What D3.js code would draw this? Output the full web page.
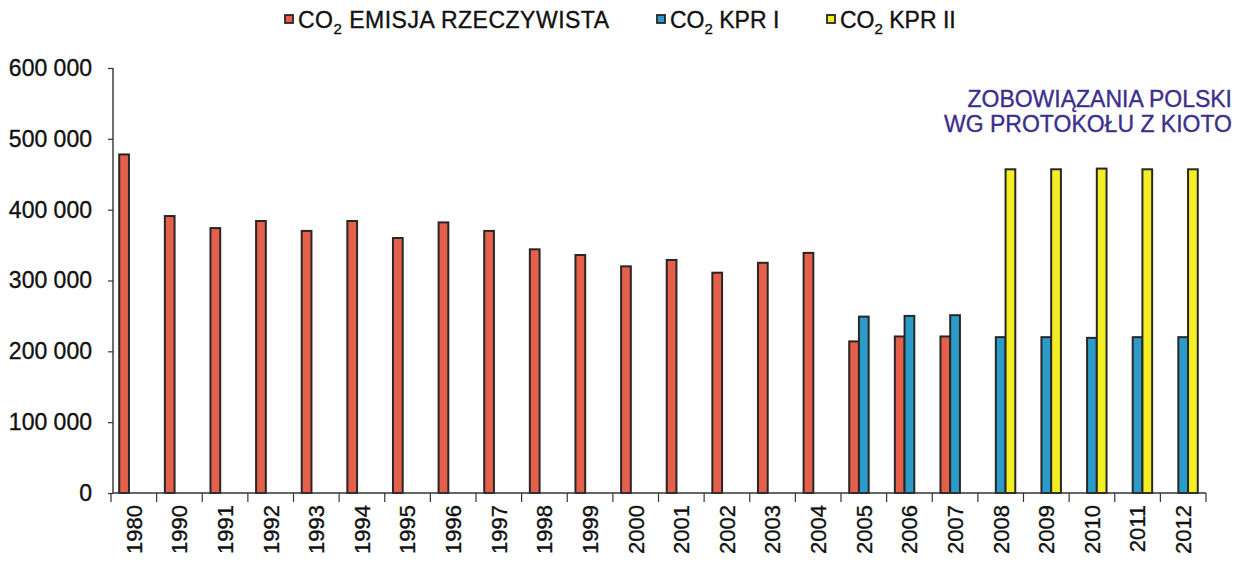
<!DOCTYPE html>
<html>
<head>
<meta charset="utf-8">
<script src="https://cdn.jsdelivr.net/npm/d3@7"></script>
<style>
  html, body { margin: 0; padding: 0; background: #fff; }
  svg { display: block; font-family: "Liberation Sans", Arial, Helvetica, sans-serif; }
  .txt { stroke-width: 0.35px; paint-order: stroke; }
</style>
</head>
<body>
<svg id="chart" width="1238" height="563"></svg>
<script>
// Emisja CO2 w Polsce [tys. ton] – emisja rzeczywista oraz limity KPR I i KPR II
const years = ["1980","1990","1991","1992","1993","1994","1995","1996","1997","1998","1999",
  "2000","2001","2002","2003","2004","2005","2006","2007","2008","2009","2010","2011","2012"];

const emisjaRzeczywista = [478000, 391000, 374000, 384000, 370000, 384000, 360000, 382000, 370000,
  344000, 336000, 320000, 329000, 311000, 325000, 339000, 214000, 221000, 221000,
  null, null, null, null, null];

const kprI = [null, null, null, null, null, null, null, null, null, null, null, null, null, null,
  null, null, 249000, 250000, 251000, 220000, 220000, 219000, 220000, 220000];

const kprII = [null, null, null, null, null, null, null, null, null, null, null, null, null, null,
  null, null, null, null, null, 457000, 457000, 458000, 457000, 457000];

const seriesNames = ["CO2 EMISJA RZECZYWISTA", "CO2 KPR I", "CO2 KPR II"];
const seriesColors = ["#e4604a", "#2b9bc9", "#f4ef22"];
const yTicks = [0, 100000, 200000, 300000, 400000, 500000, 600000];
const noteLines = ["ZOBOWIĄZANIA POLSKI", "WG PROTOKOŁU Z KIOTO"];

const svg = d3.select("#chart");
const plot = { left: 111, right: 1206, top: 68, bottom: 493 };

const x = d3.scaleBand().domain(years).range([plot.left, plot.right])
  .paddingInner(0.36).paddingOuter(0.18);
const x1 = d3.scaleBand().domain(d3.range(3)).range([0, x.bandwidth()]).padding(0);
const y = d3.scaleLinear().domain([0, 600000]).range([plot.bottom, plot.top]);

const plFormat = d3.formatLocale({ decimal: ",", thousands: " ", grouping: [3], currency: ["", ""] }).format(",d");

// bars
const seriesData = [emisjaRzeczywista, kprI, kprII];
const rows = [];
seriesData.forEach((vals, si) => vals.forEach((v, i) => {
  if (v != null) rows.push({ year: years[i], s: si, v });
}));
svg.append("g").selectAll("rect").data(rows).join("rect")
  .attr("x", d => x(d.year) + x1(d.s))
  .attr("y", d => y(d.v))
  .attr("width", x1.bandwidth())
  .attr("height", d => y(0) - y(d.v))
  .attr("fill", d => seriesColors[d.s])
  .attr("stroke", "#2a2626")
  .attr("stroke-width", 2);

// y axis
const yAxis = svg.append("g").attr("transform", `translate(${plot.left + 2},0)`)
  .call(d3.axisLeft(y).tickValues(yTicks).tickFormat(plFormat).tickSize(5).tickPadding(16));
yAxis.select(".domain").attr("stroke", "#333").attr("stroke-width", 1.4)
  .attr("d", `M0,${plot.top}V${plot.bottom}`);
yAxis.selectAll(".tick line").attr("stroke", "#333").attr("stroke-width", 1.2);
yAxis.selectAll(".tick text").attr("class", "txt").attr("fill", "#111").attr("stroke", "#111")
  .style("font-size", "23px");

// x axis: labels at band centres, tick marks on band boundaries
const xAxis = svg.append("g").attr("transform", `translate(0,${plot.bottom})`)
  .call(d3.axisBottom(x).tickSize(0).tickPadding(0));
xAxis.select(".domain").attr("stroke", "#333").attr("stroke-width", 1.4)
  .attr("d", `M${plot.left + 2},0H${plot.right}`);
xAxis.selectAll(".tick text")
  .attr("class", "txt")
  .attr("transform", "rotate(-90)")
  .attr("x", -12).attr("y", 0).attr("dy", "0.36em")
  .attr("text-anchor", "end")
  .attr("fill", "#111").attr("stroke", "#111")
  .style("font-size", "22px");
const step = x.step();
const bounds = years.map(yr => x(yr) - x.paddingInner() * step / 2).concat([plot.right]);
xAxis.append("g").selectAll("line").data(bounds).join("line")
  .attr("x1", d => d).attr("x2", d => d).attr("y1", 0).attr("y2", 9)
  .attr("stroke", "#333").attr("stroke-width", 1.2);

// legend
const legendX = [285, 657, 827];
const legend = svg.append("g").attr("transform", "translate(0,28)");
seriesNames.forEach((name, i) => {
  const g = legend.append("g").attr("transform", `translate(${legendX[i]},0)`);
  g.append("rect").attr("x", 0).attr("y", -13).attr("width", 8).attr("height", 8)
    .attr("fill", seriesColors[i]).attr("stroke", "#2a2626").attr("stroke-width", 1.8);
  const t = g.append("text").attr("class", "txt").attr("x", 13).attr("y", 0)
    .attr("fill", "#111").attr("stroke", "#111")
    .style("font-size", "23px").style("letter-spacing", i === 0 ? "0.5px" : "0px");
  t.append("tspan").text("CO");
  t.append("tspan").text("2").style("font-size", "15px").attr("dy", 6);
  t.append("tspan").text(" " + name.slice(4)).attr("dy", -6);
});

// annotation
svg.append("text").attr("class", "txt").attr("text-anchor", "end")
  .attr("fill", "#3b2f8c").attr("stroke", "#3b2f8c").style("font-size", "23px")
  .selectAll("tspan").data(noteLines).join("tspan")
  .attr("x", 1232).attr("y", (d, i) => 107 + i * 25).text(d => d);
</script>
</body>
</html>
